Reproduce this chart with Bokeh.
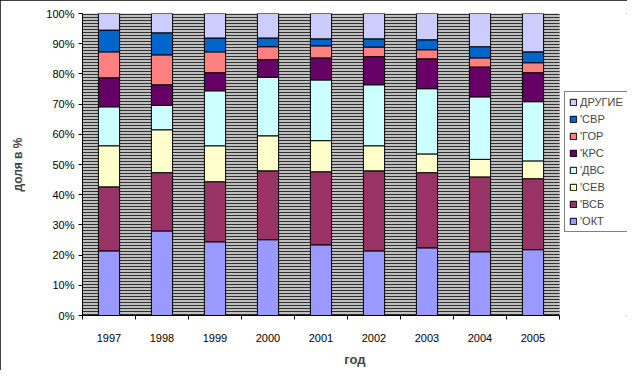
from bokeh.plotting import figure
from bokeh.models import (ColumnDataSource, Range1d, FixedTicker,
                          PrintfTickFormatter, BoxAnnotation, Legend, LegendItem)
from bokeh.embed import file_html
from bokeh.resources import INLINE

years = ["1997", "1998", "1999", "2000", "2001", "2002", "2003", "2004", "2005"]

okt    = [21.4, 28.0, 24.4, 25.1, 23.4, 21.4, 22.4, 21.1, 21.8]
vsb    = [21.2, 19.3, 19.9, 22.8, 24.2, 26.5, 24.9, 24.8, 23.5]
sev    = [13.6, 14.2, 11.9, 11.6, 10.3,  8.3,  6.2,  5.8,  5.9]
dvs    = [12.9,  8.1, 18.2, 19.4, 20.1, 20.2, 21.6, 20.7, 19.6]
krs    = [ 9.6,  6.8,  6.0,  5.8,  7.3,  9.3,  9.9,  9.9,  9.6]
gor    = [ 8.6,  9.9,  6.9,  4.3,  4.0,  3.2,  3.0,  3.0,  3.3]
svr    = [ 7.2,  7.3,  4.6,  2.9,  2.3,  2.7,  3.3,  3.7,  3.6]
drugie = [ 5.5,  6.4,  8.1,  8.1,  8.4,  8.4,  8.7, 11.0, 12.7]

series_keys = ["okt", "vsb", "sev", "dvs", "krs", "gor", "svr", "drugie"]
series_labels = ["'ОКТ", "'ВСБ", "'СЕВ", "'ДВС", "'КРС", "'ГОР", "'СВР", "ДРУГИЕ"]
colors = ["#9999FF", "#993366", "#FFFFCC", "#CCFFFF", "#660066", "#FF8080", "#0066CC", "#CCCCFF"]

n = len(years)
xpos = [i + 0.5 for i in range(n)]

source = ColumnDataSource(dict(x=xpos, okt=okt, vsb=vsb, sev=sev, dvs=dvs,
                               krs=krs, gor=gor, svr=svr, drugie=drugie))

FONT = "Liberation Sans"

W, H = 627, 370
LEFT, TOP, BOTTOM = 82, 13, 55
PLOT_W = 477  # width of the category area in px
frame_w = W - LEFT
x_end = n * frame_w / PLOT_W

p = figure(x_range=Range1d(0, x_end), y_range=Range1d(0, 100),
           width=W, height=H, output_backend="svg", toolbar_location=None,
           min_border_left=LEFT, min_border_right=0, min_border_top=TOP,
           min_border_bottom=BOTTOM)

p.background_fill_color = "white"
p.border_fill_color = "white"
p.outline_line_color = None
p.grid.visible = False

hatch = BoxAnnotation(left=0, right=n, fill_color="#c0c0c0", fill_alpha=1.0,
                      line_color="#808080", line_width=1,
                      hatch_pattern="horizontal_line", hatch_color="#303030",
                      hatch_scale=3, hatch_weight=1, level="underlay")
p.add_layout(hatch)

renderers = p.vbar_stack(series_keys, x="x", width=0.4, source=source,
                         fill_color=colors, line_color="black", line_width=1)

items = [LegendItem(label=lab, renderers=[r]) for lab, r in zip(series_labels, renderers)]
items = items[::-1]
legend = Legend(items=items, location=(482, 83),
                label_text_font=FONT, label_text_font_size="11px",
                glyph_width=8, glyph_height=8, label_standoff=3,
                label_height=12, spacing=5, padding=4, margin=0,
                border_line_color="black", border_line_width=1,
                background_fill_color="white", background_fill_alpha=1.0)
p.add_layout(legend)

# y axis
p.yaxis.ticker = FixedTicker(ticks=list(range(0, 101, 10)))
p.yaxis.formatter = PrintfTickFormatter(format="%d%%")
p.yaxis.major_tick_out = 4
p.yaxis.major_tick_in = 0
p.yaxis.minor_tick_line_color = None
p.yaxis.major_label_standoff = 4
p.yaxis.major_label_text_font = FONT
p.yaxis.major_label_text_font_size = "11px"
p.yaxis.major_label_text_color = "black"
p.yaxis.axis_label = "доля в %"
p.yaxis.axis_label_text_font = FONT
p.yaxis.axis_label_text_font_size = "12px"
p.yaxis.axis_label_text_font_style = "bold"
p.yaxis.axis_label_standoff = 18
p.yaxis.axis_line_color = "black"

# x axis: labels at category centres, ticks at category boundaries
p.xaxis.ticker = FixedTicker(ticks=xpos, minor_ticks=list(range(n + 1)))
p.xaxis.major_label_overrides = {x: y for x, y in zip(xpos, years)}
p.xaxis.bounds = (0, n)
p.xaxis.major_tick_line_color = None
p.xaxis.minor_tick_line_color = "black"
p.xaxis.minor_tick_out = 4
p.xaxis.minor_tick_in = 0
p.xaxis.major_label_standoff = 12
p.xaxis.major_label_text_font = FONT
p.xaxis.major_label_text_font_size = "11px"
p.xaxis.major_label_text_color = "black"
p.xaxis.axis_label = "год"
p.xaxis.axis_label_text_font = FONT
p.xaxis.axis_label_text_font_size = "13px"
p.xaxis.axis_label_text_font_style = "bold"
p.xaxis.axis_label_standoff = 7
p.xaxis.axis_line_color = "black"

p.styles = {"outline": "1px solid black", "outline-offset": "-1px"}

open("out.html", "w").write(file_html(p, INLINE))
